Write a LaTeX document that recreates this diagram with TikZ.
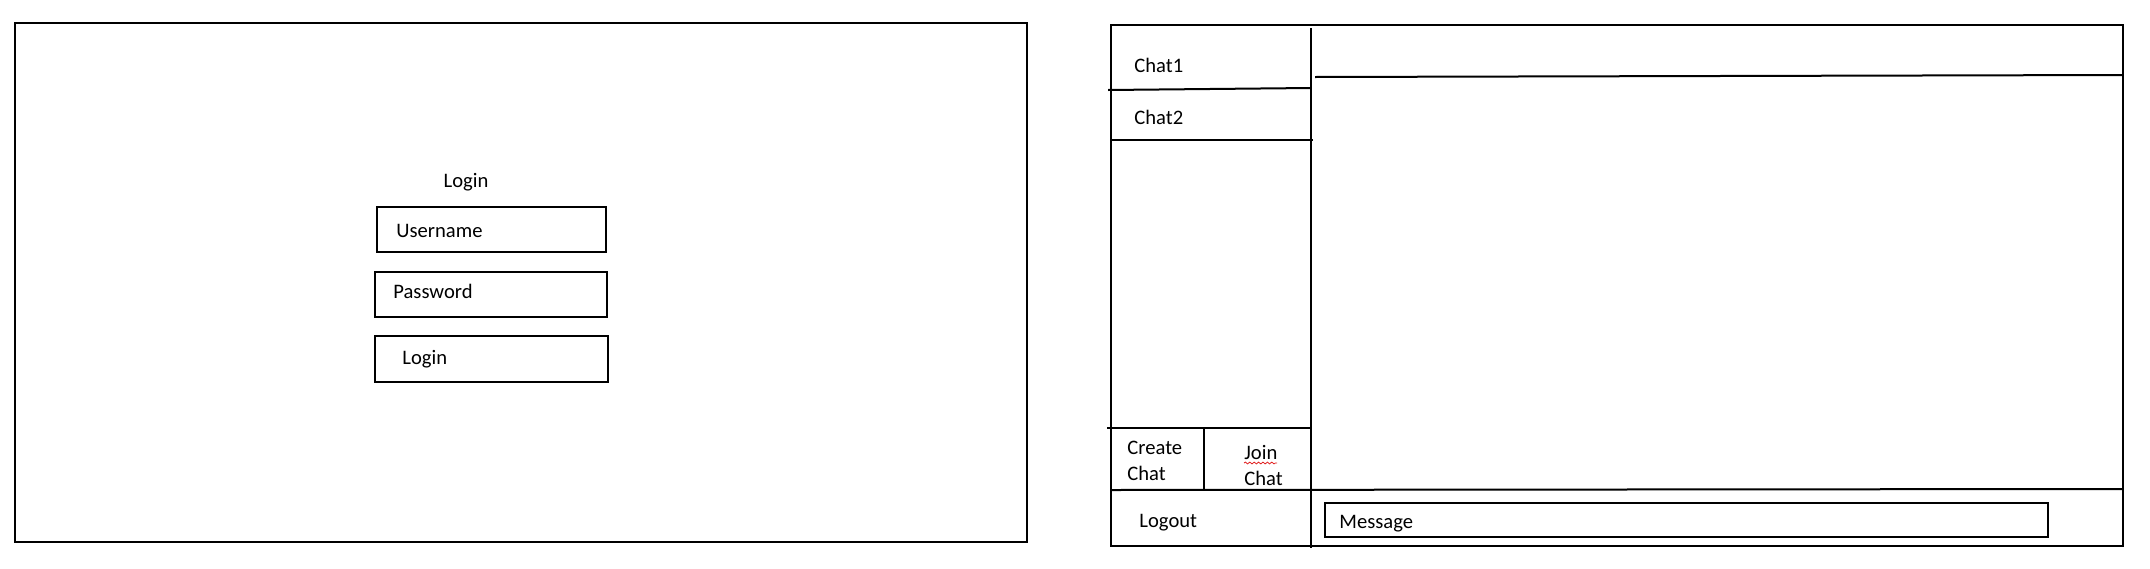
\documentclass[tikz,border=0pt]{standalone}
\usepackage{fontspec}
\setmainfont{Carlito}
\usepackage{xcolor}
\usetikzlibrary{decorations.pathmorphing}
\definecolor{ink}{HTML}{000000}
\definecolor{spell}{HTML}{E02020}
\tikzset{
  frame/.style={line width=1pt, draw=ink},
  field/.style={line width=1.2pt, draw=ink},
  lab/.style={text=ink, font=\fontsize{10.3}{13}\selectfont, inner sep=0pt, anchor=base west},
  labml/.style={lab, align=left, anchor=north west},
  squig/.style={draw=spell, line width=0.4pt, decorate,
    decoration={snake, segment length=2.2pt, amplitude=0.45pt}}
}

\begin{document}
\begin{tikzpicture}[x=0.5pt, y=-0.5pt]
  \useasboundingbox (0,0) rectangle (2150,568);

  % login screen
  \draw[frame] (15,23) rectangle (1027,542);
  \node[lab, anchor=base] (title) at (466,187) {Login};
  \draw[field] (377,207) rectangle (606,252);
  \node[lab] (user) at (396,237) {Username};
  \draw[field] (375,272) rectangle (607,317);
  \node[lab] (pass) at (393,298) {Password};
  \draw[field] (375,336) rectangle (608,382);
  \node[lab] (loginbtn) at (402,364) {Login};

  % chat screen
  \coordinate (NW) at (1111,25);
  \coordinate (SE) at (2123,546);
  \draw[frame] (NW) rectangle (SE);
  \draw[frame] (1311,28) -- (1311,548);
  \draw[frame] (1315,77) -- (2123,75);
  \draw[frame] (1108,90) -- (1311,88);
  \draw[frame] (1111,140) -- (1313,140);
  \draw[frame] (1107,428) -- (1311,428);
  \draw[frame] (1204,428) -- (1204,490);
  \draw[frame] (1111,490) -- (2123,489);
  \draw[field] (1325,503) rectangle (2048,537);

  \node[lab] (chat1) at (1134,72) {Chat1};
  \node[lab] (chat2) at (1134,124) {Chat2};
  \node[labml] (create) at (1127,441) {Create\\Chat};
  \node[labml] (join) at (1244,445) {Join\\Chat};
  \draw[squig] (join.north west) ++(0,18) -- ++(33,0);
  \node[lab] (logout) at (1139,527) {Logout};
  \node[lab] (msg) at (1339,528) {Message};
\end{tikzpicture}
\end{document}
